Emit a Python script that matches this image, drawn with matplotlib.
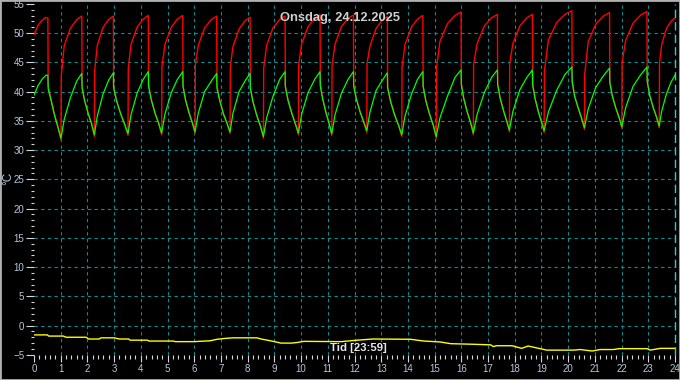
import matplotlib
matplotlib.use("Agg")
import matplotlib.pyplot as plt
from matplotlib.patches import Rectangle
from matplotlib.ticker import MultipleLocator

# ---------------- data ----------------
red_t = [0.00, 0.15, 0.30, 0.42, 0.52, 0.53, 0.64, 0.76, 0.89, 1.01,
         1.02, 1.13, 1.36, 1.60, 1.79, 1.80, 1.89, 2.03, 2.16, 2.26,
         2.27, 2.37, 2.58, 2.79, 2.97, 2.98, 3.09, 3.25, 3.40, 3.52,
         3.53, 3.63, 3.86, 4.09, 4.28, 4.29, 4.39, 4.53, 4.67, 4.78,
         4.79, 4.90, 5.14, 5.37, 5.57, 5.58, 5.67, 5.80, 5.93, 6.03,
         6.04, 6.15, 6.39, 6.64, 6.84, 6.85, 6.95, 7.09, 7.23, 7.34,
         7.35, 7.45, 7.68, 7.90, 8.09, 8.10, 8.20, 8.34, 8.48, 8.59,
         8.60, 8.71, 8.95, 9.20, 9.40, 9.41, 9.51, 9.65, 9.79, 9.90,
         9.91, 10.02, 10.26, 10.51, 10.71, 10.72, 10.81, 10.93, 11.05, 11.15,
         11.16, 11.27, 11.51, 11.76, 11.96, 11.97, 12.07, 12.21, 12.35, 12.46,
         12.47, 12.58, 12.81, 13.04, 13.23, 13.24, 13.35, 13.50, 13.65, 13.77,
         13.78, 13.89, 14.13, 14.36, 14.56, 14.57, 14.67, 14.81, 14.95, 15.06,
         15.07, 15.20, 15.48, 15.76, 15.99, 16.00, 16.09, 16.22, 16.35, 16.45,
         16.46, 16.59, 16.86, 17.13, 17.35, 17.36, 17.45, 17.58, 17.70, 17.80,
         17.81, 17.93, 18.19, 18.45, 18.66, 18.67, 18.76, 18.88, 19.00, 19.10,
         19.11, 19.26, 19.57, 19.88, 20.14, 20.15, 20.24, 20.38, 20.51, 20.61,
         20.62, 20.75, 21.03, 21.32, 21.55, 21.56, 21.65, 21.78, 21.91, 22.01,
         22.02, 22.15, 22.43, 22.72, 22.95, 22.96, 23.05, 23.18, 23.31, 23.41,
         23.42, 23.50, 23.68, 23.85, 24.00]
red_v = [49.7, 51.3, 52.2, 52.6, 52.6, 41.2, 38.6, 36.2, 34.2, 31.7,
         42.6, 47.8, 50.8, 52.3, 52.9, 41.0, 38.6, 36.3, 34.5, 32.3,
         43.5, 47.9, 50.9, 52.3, 52.9, 40.8, 38.5, 36.2, 34.4, 32.5,
         44.0, 48.0, 51.0, 52.4, 53.0, 41.2, 38.7, 36.4, 34.6, 32.6,
         44.2, 48.0, 51.0, 52.4, 53.0, 41.0, 38.7, 36.5, 34.7, 32.8,
         44.5, 47.9, 50.9, 52.3, 52.9, 41.0, 38.6, 36.3, 34.6, 32.8,
         44.3, 47.7, 50.7, 52.1, 52.7, 40.6, 38.3, 36.0, 34.2, 32.0,
         44.0, 47.9, 50.9, 52.3, 52.9, 41.0, 38.6, 36.4, 34.5, 32.6,
         44.6, 48.1, 51.1, 52.5, 53.1, 41.3, 38.8, 36.5, 34.6, 32.5,
         44.5, 48.1, 51.1, 52.5, 53.1, 41.2, 38.8, 36.6, 34.8, 33.0,
         44.8, 47.8, 50.8, 52.2, 52.8, 40.6, 38.4, 36.1, 34.3, 32.3,
         44.2, 48.0, 51.0, 52.4, 53.0, 40.9, 38.5, 36.2, 34.3, 32.0,
         44.0, 48.6, 51.6, 53.0, 53.6, 41.4, 38.9, 36.6, 34.7, 32.6,
         44.6, 48.2, 51.2, 52.6, 53.2, 41.4, 39.0, 36.8, 35.0, 33.1,
         44.8, 48.2, 51.2, 52.6, 53.2, 41.2, 38.9, 36.7, 34.9, 33.0,
         43.5, 48.8, 51.8, 53.2, 53.8, 41.8, 39.3, 37.2, 35.4, 33.5,
         43.0, 48.5, 51.5, 52.9, 53.5, 41.8, 39.4, 37.3, 35.6, 33.7,
         45.0, 48.7, 51.7, 53.1, 53.7, 42.0, 39.5, 37.4, 35.7, 33.8,
         44.8, 48.0, 50.8, 52.0, 52.6]

green_t = [0.00, 0.15, 0.30, 0.45, 0.52, 0.53, 0.64, 0.76, 0.89, 1.01,
           1.13, 1.36, 1.60, 1.79, 1.80, 1.89, 2.03, 2.16, 2.26,
           2.37, 2.58, 2.79, 2.97, 2.98, 3.09, 3.25, 3.40, 3.52,
           3.63, 3.86, 4.09, 4.28, 4.29, 4.39, 4.53, 4.67, 4.78,
           4.90, 5.14, 5.37, 5.57, 5.58, 5.67, 5.80, 5.93, 6.03,
           6.15, 6.39, 6.64, 6.84, 6.85, 6.95, 7.09, 7.23, 7.34,
           7.45, 7.68, 7.90, 8.09, 8.10, 8.20, 8.34, 8.48, 8.59,
           8.71, 8.95, 9.20, 9.40, 9.41, 9.51, 9.65, 9.79, 9.90,
           10.02, 10.26, 10.51, 10.71, 10.72, 10.81, 10.93, 11.05, 11.15,
           11.27, 11.51, 11.76, 11.96, 11.97, 12.07, 12.21, 12.35, 12.46,
           12.58, 12.81, 13.04, 13.23, 13.24, 13.35, 13.50, 13.65, 13.77,
           13.89, 14.13, 14.36, 14.56, 14.57, 14.67, 14.81, 14.95, 15.06,
           15.20, 15.48, 15.76, 15.99, 16.00, 16.09, 16.22, 16.35, 16.45,
           16.59, 16.86, 17.13, 17.35, 17.36, 17.45, 17.58, 17.70, 17.80,
           17.93, 18.19, 18.45, 18.66, 18.67, 18.76, 18.88, 19.00, 19.10,
           19.26, 19.57, 19.88, 20.14, 20.15, 20.24, 20.38, 20.51, 20.61,
           20.75, 21.03, 21.32, 21.55, 21.56, 21.65, 21.78, 21.91, 22.01,
           22.15, 22.43, 22.72, 22.95, 22.96, 23.05, 23.18, 23.31, 23.41,
           23.50, 23.68, 23.85, 24.00]
green_v = [39.4, 41.0, 42.1, 42.8, 42.8, 40.5, 38.5, 36.1, 34.0, 32.0,
           35.2, 38.9, 41.8, 43.1, 40.6, 38.5, 36.2, 34.4, 32.6,
           35.8, 39.5, 41.9, 43.2, 40.7, 38.4, 36.1, 34.3, 32.8,
           36.0, 39.7, 42.1, 43.4, 40.9, 38.6, 36.3, 34.5, 32.9,
           36.1, 39.8, 42.1, 43.4, 40.9, 38.6, 36.4, 34.6, 33.1,
           36.3, 40.0, 41.8, 43.1, 40.6, 38.5, 36.2, 34.5, 33.1,
           36.3, 40.0, 41.8, 43.1, 40.6, 38.2, 35.9, 34.0, 32.3,
           35.5, 39.2, 42.1, 43.4, 40.9, 38.5, 36.3, 34.4, 32.9,
           36.1, 39.8, 42.1, 43.4, 40.9, 38.7, 36.4, 34.5, 32.8,
           36.0, 39.7, 42.1, 43.4, 40.9, 38.7, 36.5, 34.7, 33.3,
           36.5, 40.2, 41.9, 43.2, 40.7, 38.3, 36.0, 34.2, 32.6,
           35.8, 39.5, 42.1, 43.4, 40.9, 38.4, 36.1, 34.2, 32.3,
           35.5, 39.2, 42.4, 43.7, 41.2, 38.8, 36.5, 34.6, 32.9,
           36.1, 39.8, 42.4, 43.7, 41.2, 38.9, 36.7, 34.9, 33.4,
           36.6, 40.3, 42.4, 43.7, 41.2, 38.8, 36.6, 34.8, 33.3,
           36.5, 40.2, 42.9, 44.2, 41.7, 39.2, 37.1, 35.3, 33.8,
           37.0, 40.7, 42.7, 44.0, 41.5, 39.3, 37.2, 35.5, 34.0,
           37.2, 40.9, 42.9, 44.2, 41.7, 39.4, 37.3, 35.6, 34.1,
           36.6, 39.6, 41.6, 42.8]

yellow_t = [0.0, 0.5, 0.55, 1.1, 1.2, 1.95, 2.05, 2.45, 2.5, 3.0, 3.2, 3.55,
            3.6, 4.25, 4.3, 5.2, 5.3, 6.0, 6.6, 6.85, 7.15, 7.45, 8.35, 8.5,
            8.85, 9.25, 9.65, 9.85, 10.1, 11.5, 12.1, 12.7, 14.1, 14.6, 15.2,
            15.6, 16.45, 17.1, 17.2, 17.3, 17.9, 18.26, 18.5, 18.9, 19.2, 20.2,
            20.45, 20.9, 21.2, 21.7, 21.9, 22.95, 23.07, 23.45, 24.0]
yellow_v = [-1.6, -1.6, -1.8, -1.8, -2.0, -2.0, -2.3, -2.3, -2.1, -2.1, -2.3, -2.3,
            -2.5, -2.5, -2.65, -2.65, -2.75, -2.75, -2.6, -2.35, -2.2, -2.1, -2.1, -2.3,
            -2.6, -3.0, -3.0, -2.9, -2.7, -2.75, -2.5, -2.3, -2.35, -2.65, -2.8,
            -3.1, -3.2, -3.3, -3.6, -3.45, -3.45, -3.9, -3.5, -3.9, -4.2, -4.2,
            -4.1, -4.35, -4.1, -4.1, -3.95, -3.95, -4.2, -3.9, -3.9]

title_text = "Onsdag, 24.12.2025"
time_text = "Tid [23:59]"
y_label = "°C"

# ---------------- figure ----------------
W, H = 680, 380
fig = plt.figure(figsize=(W / 100, H / 100), dpi=100, facecolor="black")
ax = fig.add_axes([34 / W, (H - 354.8) / H, 641 / W, 351 / H], facecolor="black")
ax.set_xlim(0, 24)
ax.set_ylim(-5, 55)
for s in ax.spines.values():
    s.set_visible(False)

grid_col = "#0a8f8f"
for y in range(0, 55, 5):
    ax.axhline(y, color=grid_col, lw=0.8, ls=(0, (3, 3)), zorder=1)
for x in range(1, 24):
    ax.axvline(x, color=grid_col, lw=0.8, ls=(0, (3, 3)), zorder=1)
ax.axvline(24, color="#20d0e0", lw=1.0, ls=(0, (6, 3)), zorder=1, clip_on=False)

ax.plot(yellow_t, yellow_v, color="#ffff00", lw=1.0, zorder=3)
ax.plot(red_t, red_v, color="#ff0000", lw=1.0, zorder=3)
ax.plot(green_t, green_v, color="#00ff00", lw=0.9, zorder=4)

tick_col = "#d8d8d8"
lab_col = "#b8c6dc"
ax.xaxis.set_major_locator(MultipleLocator(1))
ax.xaxis.set_minor_locator(MultipleLocator(0.2))
ax.yaxis.set_major_locator(MultipleLocator(5))
ax.yaxis.set_minor_locator(MultipleLocator(1))
ax.tick_params(axis="y", which="major", direction="out", length=6, width=0.8,
               color=tick_col, labelcolor=lab_col, labelsize=7, pad=1)
ax.tick_params(axis="y", which="minor", direction="out", length=2.5, width=0.8, color=tick_col)
ax.tick_params(axis="x", which="major", direction="out", length=5, width=0.8,
               color=tick_col, labelcolor=lab_col, labelsize=7, pad=1.5)
ax.tick_params(axis="x", which="minor", direction="out", length=3, width=0.8, color=tick_col)
for lab in ax.get_xticklabels() + ax.get_yticklabels():
    lab.set_fontfamily("Liberation Sans")

fig.text(340 / W, 1 - 17.5 / H, title_text, ha="center", va="center",
         fontsize=9.3, fontweight="bold", color="#d0d0d0", family="Liberation Sans")
fig.text(358 / W, 1 - 348 / H, time_text, ha="center", va="center",
         fontsize=8.2, fontweight="bold", color="#e8e8e8", family="Liberation Sans")
fig.text(8 / W, 1 - 178 / H, y_label, ha="center", va="center", rotation=90,
         fontsize=8.5, color=lab_col, family="Liberation Sans")

fig.patches.append(Rectangle((0, 0), 1, 1, transform=fig.transFigure, fill=False,
                             edgecolor="#b0b0b0", lw=2.0))

fig.savefig("out.png", dpi=100, facecolor="black")
